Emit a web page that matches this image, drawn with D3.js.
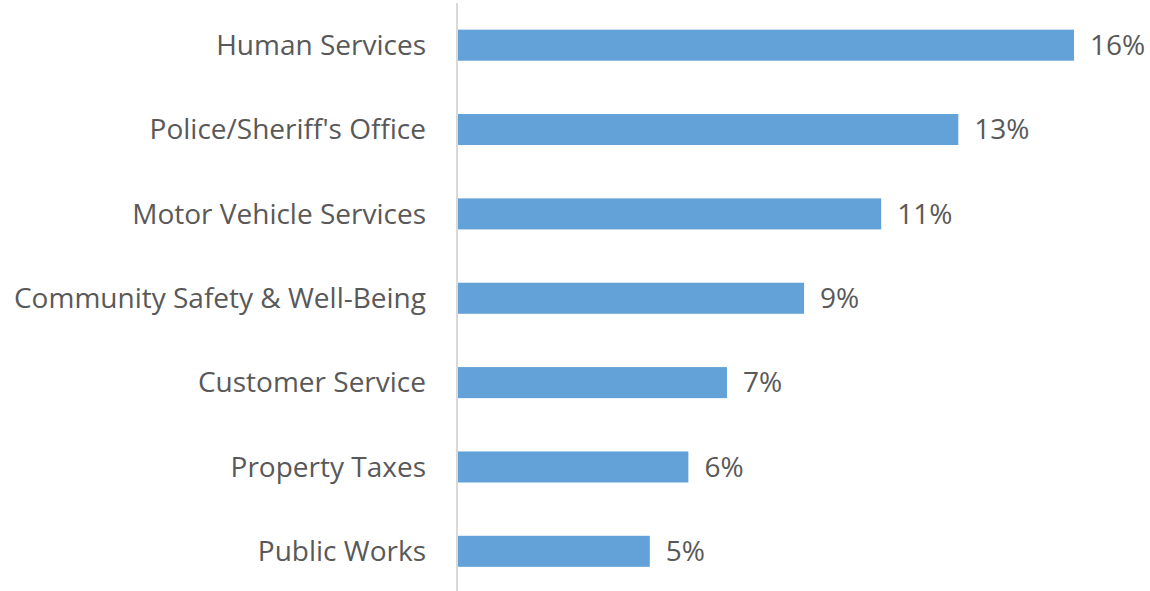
<!DOCTYPE html>
<html>
<head>
<meta charset="utf-8">
<script src="https://cdn.jsdelivr.net/npm/d3@7"></script>
<style>
  html, body { margin: 0; padding: 0; background: #fff; }
  svg { display: block; }
</style>
</head>
<body>
<svg id="chart" width="1150" height="591"></svg>
<script>
// Share of requests by department
const categories = [
  "Human Services",
  "Police/Sheriff's Office",
  "Motor Vehicle Services",
  "Community Safety & Well-Being",
  "Customer Service",
  "Property Taxes",
  "Public Works"
];
const values = [16, 13, 11, 9, 7, 6, 5];
const valueLabels = ["16%", "13%", "11%", "9%", "7%", "6%", "5%"];

const svg = d3.select("#chart");
const font = "'Open Sans', 'Noto Sans', sans-serif";
const textColor = "#595959";
const fontSize = 28;

const x = d3.scaleLinear().domain([0, 16]).range([457, 1074]);
const y = d3.scaleBand()
  .domain(categories)
  .range([3, 593.5])
  .paddingInner(0.632)
  .paddingOuter(0.316);

// Bars
svg.append("g").selectAll("rect")
  .data(categories)
  .join("rect")
  .attr("x", x(0))
  .attr("y", d => y(d))
  .attr("width", (d, i) => x(values[i]) - x(0))
  .attr("height", y.bandwidth())
  .attr("fill", "#62a2d8");

// Vertical category axis line
svg.append("line")
  .attr("x1", x(0)).attr("x2", x(0))
  .attr("y1", 3).attr("y2", 591)
  .attr("stroke", "#d9d9d9")
  .attr("stroke-width", 2);

// Category labels
svg.append("g").selectAll("text")
  .data(categories)
  .join("text")
  .attr("x", 426)
  .attr("y", d => y(d) + y.bandwidth() / 2)
  .attr("dy", "0.35em")
  .attr("text-anchor", "end")
  .attr("font-family", font)
  .attr("font-size", fontSize)
  .attr("fill", textColor)
  .text(d => d);

// Value labels
svg.append("g").selectAll("text")
  .data(categories)
  .join("text")
  .attr("x", (d, i) => x(values[i]) + 16)
  .attr("y", d => y(d) + y.bandwidth() / 2)
  .attr("dy", "0.35em")
  .attr("font-family", font)
  .attr("font-size", fontSize)
  .attr("fill", textColor)
  .text((d, i) => valueLabels[i]);
</script>
</body>
</html>
